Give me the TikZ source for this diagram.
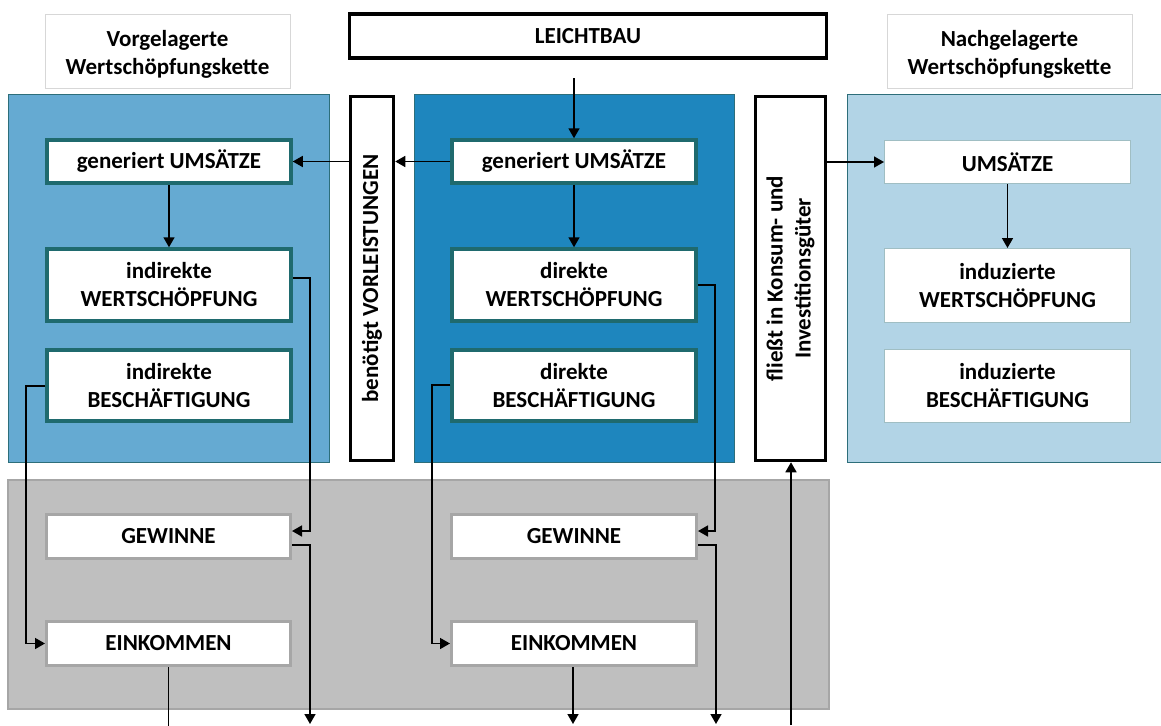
\documentclass[tikz,border=0pt]{standalone}
\usepackage{fontspec}
\setmainfont{Carlito}
\usetikzlibrary{arrows.meta,calc}
\definecolor{panelA}{RGB}{101,170,210}
\definecolor{panelB}{RGB}{30,134,190}
\definecolor{panelC}{RGB}{178,212,230}
\definecolor{panelEdge}{RGB}{45,110,122}
\definecolor{boxEdge}{RGB}{31,106,110}
\definecolor{greyPanel}{RGB}{191,191,191}
\definecolor{greyEdge}{RGB}{166,166,166}
\definecolor{headEdge}{RGB}{215,215,215}
\begin{document}
\begin{tikzpicture}[x=1pt,y=-1pt,
  every node/.style={font=\bfseries\fontsize{23}{28}\selectfont, align=center, inner sep=0pt},
  panel/.style={draw=panelEdge, line width=1pt},
  darkbox/.style={draw=black, line width=3.5pt, fill=white},
  tealbox/.style={draw=boxEdge, line width=3.5pt, fill=white},
  paleBox/.style={draw=panelEdge!45, line width=1pt, fill=white},
  greyBox/.style={draw=greyEdge, line width=3pt, fill=white},
  headBox/.style={draw=headEdge, line width=1pt, fill=white},
  arr/.style={line width=1.6pt, -{Triangle[length=10pt,width=11pt]}},
  link/.style={line width=1.6pt}]
\useasboundingbox (0,0) rectangle (1161,725);

% panels
\node[panel, fill=panelA, minimum width=321, minimum height=368] (pl) at (168.5,278) {};
\node[panel, fill=panelB, minimum width=320, minimum height=368] (pc) at (574,278) {};
\node[panel, fill=panelC, minimum width=316, minimum height=368] (pr) at (1005,278) {};
\node[draw=greyEdge, line width=1.5pt, fill=greyPanel, minimum width=821, minimum height=229] (pg) at (418.5,594.5) {};

% headers
\node[headBox, minimum width=245, minimum height=73] (hl) at (167.5,51.5) {};
\node at ($(hl.center)+(0,3)$) {Vorgelagerte\\Wertschöpfungskette};
\node[headBox, minimum width=245, minimum height=73] (hr) at (1009.5,51.5) {};
\node at ($(hr.center)+(0,3)$) {Nachgelagerte\\Wertschöpfungskette};
\node[darkbox, minimum width=477, minimum height=44] (lb) at (588,36) {LEICHTBAU};

% vertical bars
\node[darkbox, minimum width=43, minimum height=364] (vl) at (372,278.5) {};
\node[rotate=90] at (vl.center) {benötigt VORLEISTUNGEN};
\node[darkbox, minimum width=70, minimum height=364] (fl) at (790.5,278.5) {};
\node[rotate=90] at (fl.center) {fließt in Konsum- und\\Investitionsgüter};

% upstream chain
\node[tealbox, minimum width=244, minimum height=43] (lu) at (169,161.5) {generiert UMSÄTZE};
\node[tealbox, minimum width=244, minimum height=72] (lw) at (169,285) {indirekte\\WERTSCHÖPFUNG};
\node[tealbox, minimum width=244, minimum height=71] (lbe) at (169,385.5) {indirekte\\BESCHÄFTIGUNG};

% direct effects
\node[tealbox, minimum width=244, minimum height=43] (cu) at (574,161.5) {generiert UMSÄTZE};
\node[tealbox, minimum width=244, minimum height=72] (cw) at (574,285) {direkte\\WERTSCHÖPFUNG};
\node[tealbox, minimum width=244, minimum height=71] (cbe) at (574,385.5) {direkte\\BESCHÄFTIGUNG};

% downstream chain
\node[paleBox, minimum width=246, minimum height=43] (ru) at (1007.5,162) {UMSÄTZE};
\node[paleBox, minimum width=246, minimum height=74] (rw) at (1007.5,285.5) {induzierte\\WERTSCHÖPFUNG};
\node[paleBox, minimum width=246, minimum height=73] (rbe) at (1007.5,386) {induzierte\\BESCHÄFTIGUNG};

% income boxes
\node[greyBox, minimum width=244, minimum height=44] (lg) at (168.5,536.5) {GEWINNE};
\node[greyBox, minimum width=244, minimum height=44] (le) at (168.5,643.5) {EINKOMMEN};
\node[greyBox, minimum width=245, minimum height=44] (cg) at (574,536.5) {GEWINNE};
\node[greyBox, minimum width=245, minimum height=44] (ce) at (574,643.5) {EINKOMMEN};

% free ends
\coordinate (src) at (573,78);
\coordinate (b1) at (170,730);
\coordinate (b2) at (310,724);
\coordinate (b3) at (573,724);
\coordinate (b4) at (716,724);
\coordinate (b5) at (791,725);

% flows
\draw[arr] (src -| cu.north) -- (cu.north);
\draw[arr] (cu.west) -- (cu.west -| vl.east);
\draw[arr] (lu.east -| vl.west) -- (lu.east);
\draw[arr] (lu.south) -- (lw.north);
\draw[arr] (cu.south) -- (cw.north);
\draw[arr] (fl.east |- ru.west) -- (ru.west);
\draw[arr] (ru.south) -- (rw.north);

\draw[arr] ($(lw.east)+(0,-7)$) -- ++(17,0) |- ($(lg.east)+(0,-5.5)$);
\draw[arr] ($(lbe.west)+(0,0.5)$) -- ++(-19,0) |- (le.west);
\draw[arr] ($(lg.east)+(0,8.5)$) -| (b2);
\draw[link] (le.south) -- (le.south |- b1);

\draw[arr] (cw.east) -- ++(17,0) |- ($(cg.east)+(0,-5.5)$);
\draw[arr] ($(cbe.west)+(0,-0.5)$) -- ++(-18,0) |- (ce.west);
\draw[arr] ($(cg.east)+(0,8.5)$) -| (b4);
\draw[arr] (ce.south -| b3) -- (b3);

\draw[arr] (b5) -- (b5 |- fl.south);
\end{tikzpicture}
\end{document}
